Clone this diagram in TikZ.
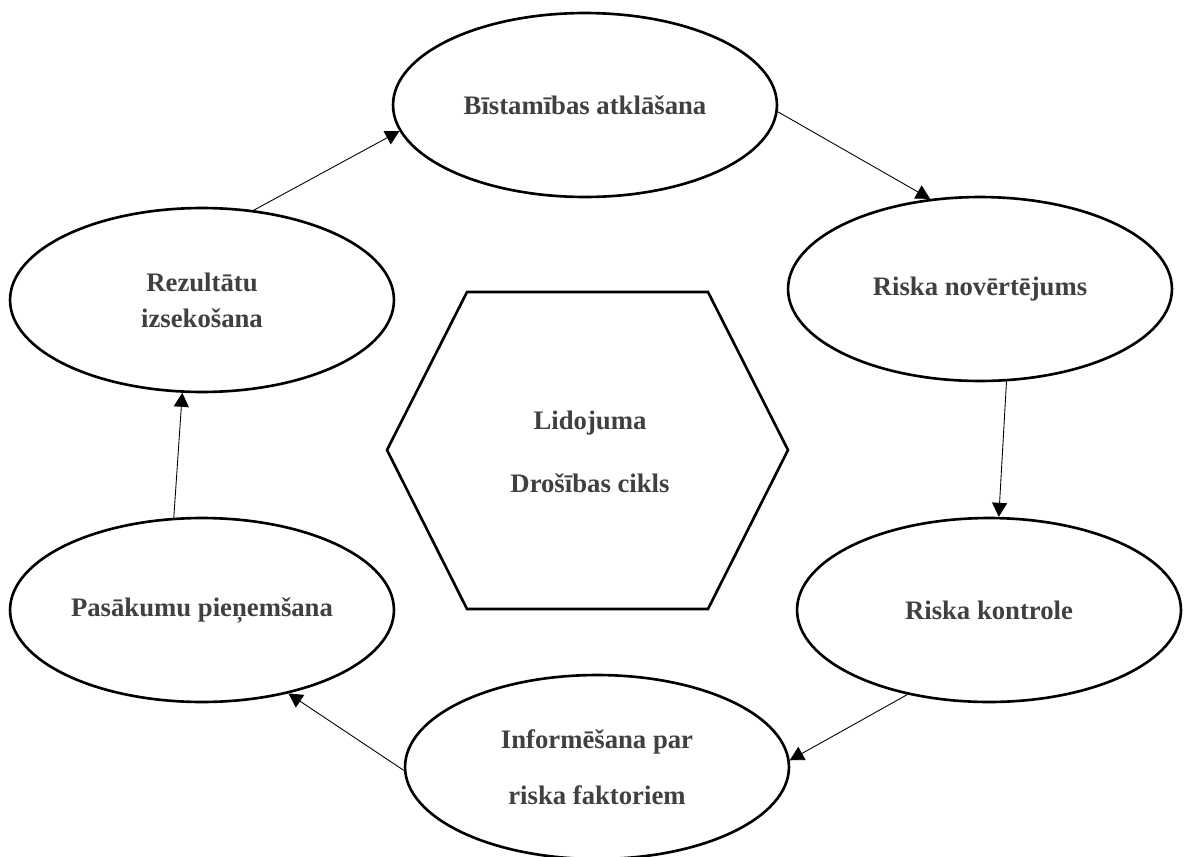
\documentclass[tikz,border=0pt]{standalone}
\usepackage{fontspec}
\setmainfont{Liberation Serif}
\usetikzlibrary{shapes.geometric,arrows.meta}
\definecolor{labelgray}{RGB}{64,64,64}

\begin{document}
\begin{tikzpicture}[x=0.02cm,y=-0.02cm,
    stage/.style={ellipse,draw,line width=1.5pt,minimum width=7.68cm,
        minimum height=3.68cm,inner sep=0pt,align=center,text=labelgray,
        font=\fontsize{15.2}{18}\bfseries},
    flow/.style={-{Triangle[length=0.28cm,width=0.3cm]},line width=0.5pt}]

    % Fix the page size
    \useasboundingbox (0,0) rectangle (1187,856);

    % The six stages of the cycle
    \node[stage] (B) at (585,105) {Bīstamības atklāšana};
    \node[stage] (RN) at (980,289) {Riska novērtējums};
    \node[stage] (RK) at (989,610) {Riska kontrole};
    \node[stage,font=\fontsize{15.2}{32}\bfseries] (I) at (597,767)
        {Informēšana par\\ riska faktoriem};
    \node[stage] (P) at (202,610) {Pasākumu pieņemšana};
    \node[stage,font=\fontsize{15.2}{20.5}\bfseries] (R) at (202,300)
        {Rezultātu\\ izsekošana};

    % Draw the hexagon in the middle
    \draw[line width=1.5pt] (467,292) -- (708,292) -- (788,450)
        -- (708,609) -- (467,609) -- (387,450) -- cycle;
    \node[align=center,text=labelgray,font=\fontsize{15.2}{36}\bfseries]
        (C) at (590,452) {Lidojuma\\ Drošības cikls};

    % Arrows going round the cycle
    \draw[flow] (B.-2) -- (RN.119);
    \draw[flow] (RN.-74) -- (RK.84);
    \draw[flow] (RK.-134) -- (I.2);
    \draw[flow] (I.181) -- (P.-44);
    \draw[flow] (P.107) -- (R.-102);
    \draw[flow] (R.60) -- (B.188);

\end{tikzpicture}
\end{document}
